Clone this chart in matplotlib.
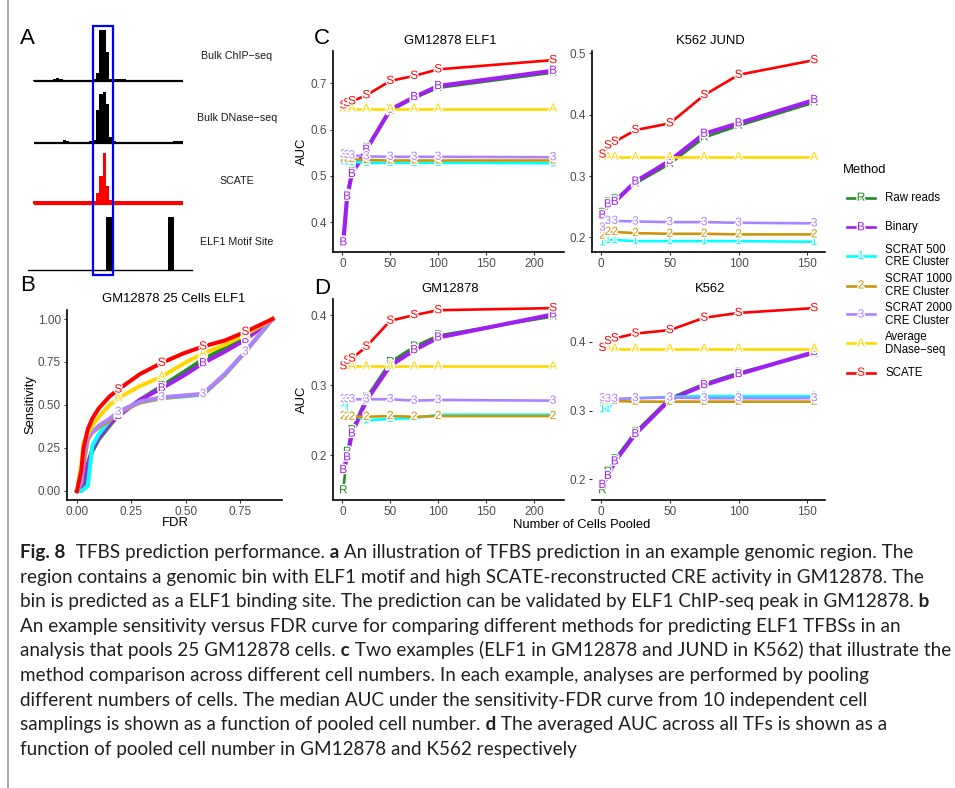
import matplotlib
matplotlib.use("Agg")
import matplotlib.pyplot as plt
import numpy as np
from matplotlib import patheffects, transforms
from matplotlib.patches import Rectangle
from matplotlib.lines import Line2D

plt.rcParams['font.family'] = 'Liberation Sans'

W, H = 955, 788

# ---- methods / legend ----
method_names = ['Raw reads', 'Binary', 'SCRAT 500\nCRE Cluster', 'SCRAT 1000\nCRE Cluster',
                'SCRAT 2000\nCRE Cluster', 'Average\nDNase\u2212seq', 'SCATE']
method_letters = ['R', 'B', '1', '2', '3', 'A', 'S']
method_colors = ['#228B22', '#A020F0', '#00FFFF', '#CD950C', '#AB82FF', '#FFD700', '#FF0000']

# ---- panel A tracks (45 genomic bins) ----
chip_signal = [0.02, 0.02, 0.02, 0.02, 0.0, 0.0, 0.04, 0.05, 0.04, 0.02, 0.0, 0.0, 0.0, 0.0, 0.0,
               0.0, 0.0, 0.02, 0.03, 0.15, 1.0, 1.0, 0.56, 0.04, 0.03, 0.04, 0.04, 0.04, 0.0, 0.0,
               0.0, 0.0, 0.0, 0.0, 0.0, 0.0, 0.0, 0.0, 0.0, 0.0, 0.0, 0.0, 0.0, 0.0, 0.0]
dnase_signal = [0.0, 0.0, 0.0, 0.0, 0.0, 0.0, 0.0, 0.0, 0.02, 0.05, 0.04, 0.02, 0.0, 0.0, 0.0,
                0.0, 0.02, 0.04, 0.05, 0.65, 0.95, 1.0, 0.75, 0.12, 0.03, 0.0, 0.0, 0.0, 0.0, 0.0,
                0.0, 0.0, 0.0, 0.0, 0.0, 0.0, 0.0, 0.0, 0.0, 0.0, 0.0, 0.0, 0.03, 0.04, 0.03]
scate_signal = [0.05, 0.05, 0.06, 0.05, 0.05, 0.06, 0.05, 0.05, 0.05, 0.05, 0.05, 0.05, 0.05, 0.05, 0.05,
                0.05, 0.05, 0.05, 0.05, 0.22, 0.55, 1.0, 0.35, 0.08, 0.05, 0.05, 0.06, 0.05, 0.05, 0.05,
                0.05, 0.06, 0.05, 0.05, 0.05, 0.05, 0.05, 0.06, 0.05, 0.05, 0.05, 0.05, 0.05, 0.05, 0.05]
motif_sites = [22.0, 40.5]
highlight_bins = (18.1, 24.1)
track_names = ['Bulk ChIP\u2212seq', 'Bulk DNase\u2212seq', 'SCATE', 'ELF1 Motif Site']

# ---- panel B: sensitivity vs FDR, GM12878 25 cells ELF1 ----
fdr = [0.0, 0.02, 0.03, 0.05, 0.07, 0.1, 0.15, 0.19, 0.29, 0.39, 0.49, 0.58, 0.68, 0.775, 0.9]
sens_raw = [0.0, 0.0, 0.03, 0.15, 0.23, 0.30, 0.38, 0.44, 0.53, 0.61, 0.69, 0.765, 0.83, 0.90, 1.0]
sens_binary = [0.0, 0.02, 0.06, 0.16, 0.24, 0.31, 0.39, 0.436, 0.53, 0.597, 0.67, 0.743, 0.81, 0.879, 1.0]
sens_scrat500 = [0.0, 0.0, 0.01, 0.03, 0.26, 0.33, 0.41, 0.46, 0.515, 0.54, 0.55, 0.56, 0.674, 0.81, 1.0]
sens_scrat1000 = [0.0, 0.05, 0.15, 0.30, 0.34, 0.37, 0.41, 0.455, 0.515, 0.54, 0.553, 0.562, 0.675, 0.81, 1.0]
sens_scrat2000 = [0.0, 0.05, 0.20, 0.31, 0.34, 0.38, 0.42, 0.46, 0.52, 0.545, 0.555, 0.565, 0.68, 0.81, 1.0]
sens_dnase = [0.0, 0.15, 0.28, 0.33, 0.38, 0.43, 0.50, 0.54, 0.61, 0.665, 0.74, 0.80, 0.85, 0.91, 1.0]
sens_scate = [0.0, 0.12, 0.25, 0.36, 0.42, 0.48, 0.55, 0.59, 0.68, 0.745, 0.80, 0.84, 0.875, 0.925, 1.0]
fdr_label_idx = [7, 9, 11, 13]

# ---- panels C/D: AUC vs number of pooled cells ----
cells_gm = [1, 5, 10, 25, 50, 75, 100, 220]
cells_k562 = [1, 5, 10, 25, 50, 75, 100, 155]

elf1_raw = [0.357, 0.458, 0.508, 0.560, 0.640, 0.668, 0.690, 0.723]
elf1_binary = [0.356, 0.455, 0.504, 0.556, 0.643, 0.670, 0.694, 0.727]
elf1_scrat500 = [0.532, 0.531, 0.530, 0.528, 0.528, 0.528, 0.528, 0.527]
elf1_scrat1000 = [0.537, 0.537, 0.536, 0.534, 0.533, 0.533, 0.533, 0.533]
elf1_scrat2000 = [0.546, 0.545, 0.544, 0.542, 0.541, 0.541, 0.541, 0.540]
elf1_dnase = [0.645, 0.645, 0.645, 0.645, 0.645, 0.645, 0.645, 0.645]
elf1_scate = [0.652, 0.657, 0.661, 0.674, 0.705, 0.716, 0.730, 0.750]

jund_raw = [0.240, 0.257, 0.262, 0.288, 0.320, 0.363, 0.382, 0.420]
jund_binary = [0.236, 0.254, 0.258, 0.291, 0.325, 0.369, 0.386, 0.424]
jund_scrat500 = [0.192, 0.196, 0.196, 0.194, 0.194, 0.194, 0.194, 0.193]
jund_scrat1000 = [0.203, 0.209, 0.209, 0.207, 0.206, 0.206, 0.205, 0.205]
jund_scrat2000 = [0.216, 0.227, 0.227, 0.226, 0.225, 0.225, 0.224, 0.223]
jund_dnase = [0.331, 0.331, 0.331, 0.331, 0.331, 0.331, 0.331, 0.331]
jund_scate = [0.335, 0.350, 0.356, 0.375, 0.386, 0.432, 0.465, 0.489]

gm_raw = [0.150, 0.205, 0.236, 0.282, 0.333, 0.355, 0.371, 0.398]
gm_binary = [0.179, 0.197, 0.231, 0.278, 0.328, 0.350, 0.368, 0.401]
gm_scrat500 = [0.274, 0.266, 0.258, 0.250, 0.252, 0.253, 0.258, 0.258]
gm_scrat1000 = [0.256, 0.255, 0.255, 0.255, 0.256, 0.255, 0.256, 0.256]
gm_scrat2000 = [0.280, 0.280, 0.280, 0.280, 0.280, 0.278, 0.279, 0.278]
gm_dnase = [0.327, 0.327, 0.327, 0.327, 0.327, 0.327, 0.327, 0.327]
gm_scate = [0.327, 0.335, 0.338, 0.355, 0.392, 0.400, 0.407, 0.410]

k_raw = [0.184, 0.211, 0.229, 0.269, 0.318, 0.339, 0.355, 0.383]
k_binary = [0.192, 0.205, 0.226, 0.266, 0.316, 0.337, 0.353, 0.385]
k_scrat500 = [0.302, 0.303, 0.316, 0.318, 0.320, 0.321, 0.321, 0.321]
k_scrat1000 = [0.315, 0.315, 0.314, 0.313, 0.313, 0.313, 0.313, 0.313]
k_scrat2000 = [0.318, 0.317, 0.317, 0.318, 0.319, 0.318, 0.318, 0.318]
k_dnase = [0.390, 0.390, 0.390, 0.390, 0.390, 0.390, 0.390, 0.390]
k_scate = [0.391, 0.401, 0.405, 0.412, 0.417, 0.435, 0.442, 0.449]

caption_lines = [
    [("Fig. 8", True), ("  TFBS prediction performance.", False), (" a", True),
     (" An illustration of TFBS prediction in an example genomic region. The", False)],
    [("region contains a genomic bin with ELF1 motif and high SCATE-reconstructed CRE activity in GM12878. The", False)],
    [("bin is predicted as a ELF1 binding site. The prediction can be validated by ELF1 ChIP-seq peak in GM12878.", False),
     (" b", True)],
    [("An example sensitivity versus FDR curve for comparing different methods for predicting ELF1 TFBSs in an", False)],
    [("analysis that pools 25 GM12878 cells.", False), (" c", True),
     (" Two examples (ELF1 in GM12878 and JUND in K562) that illustrate the", False)],
    [("method comparison across different cell numbers. In each example, analyses are performed by pooling", False)],
    [("different numbers of cells. The median AUC under the sensitivity-FDR curve from 10 independent cell", False)],
    [("samplings is shown as a function of pooled cell number.", False), (" d", True),
     (" The averaged AUC across all TFs is shown as a", False)],
    [("function of pooled cell number in GM12878 and K562 respectively", False)],
]
# right edge of each caption line in the reference (px)
caption_right = [940, 935, 940, 921, 943, 880, 878, 893, 590]

fig = plt.figure(figsize=(W / 100, H / 100), dpi=100)
fig.patch.set_facecolor('white')


def px_axes(x0, y0, x1, y1):
    return fig.add_axes([x0 / W, 1 - y1 / H, (x1 - x0) / W, (y1 - y0) / H])


def ftext(x, y, s, **kw):
    return fig.text(x / W, 1 - y / H, s, **kw)


halo = [patheffects.withStroke(linewidth=2, foreground='white')]


def style_axes(ax, xticks, yticks, xfmt, yfmt, left_spine=True):
    for s in ['top', 'right']:
        ax.spines[s].set_visible(False)
    ax.spines['left'].set_visible(left_spine)
    for s in ['left', 'bottom']:
        ax.spines[s].set_linewidth(1.2)
    ax.set_xticks(xticks)
    ax.set_yticks(yticks)
    ax.set_xticklabels([xfmt % v for v in xticks])
    ax.set_yticklabels([yfmt % v for v in yticks])
    ax.tick_params(direction='out', length=2.5, width=0.8, color='#333333',
                   labelsize=8.5, labelcolor='#4D4D4D', pad=2)
    ax.set_facecolor('none')


# ================= panel A =================
bins = list(range(len(chip_signal)))
xl = (-1.41, 47.8)
baselines = [81, 142.7, 204]
signals = [chip_signal, dnase_signal, scate_signal]
colors_a = ['black', 'black', 'red']
track_axes = []
for base, sig, col in zip(baselines, signals, colors_a):
    ax = px_axes(28, base - 56, 192, base + 4)
    ax.bar(bins, sig, width=1.0, align='edge', color=col, edgecolor='none')
    ax.hlines(0, bins[0] + 0.4, bins[-1] + 1, color=col, lw=1.6)
    ax.set_xlim(*xl)
    ax.set_ylim(-4 / 51, 56 / 51)
    ax.axis('off')
    track_axes.append(ax)

axm = px_axes(28, 214, 192, 269.5)
axm.bar(motif_sites, [1, 1], width=1.75, align='edge', color='black')
axm.set_xlim(*xl)
axm.set_ylim(0, 1.05)
for s in ['top', 'right', 'left']:
    axm.spines[s].set_visible(False)
axm.spines['bottom'].set_linewidth(1.0)
axm.set_xticks([])
axm.set_yticks([])
axm.set_facecolor('none')

for name, yy in zip(track_names, [55.7, 118.3, 180.7, 242.3]):
    ftext(237, yy, name, fontsize=7.7, ha='center', va='center', color='#1a1a1a')

tr = transforms.blended_transform_factory(track_axes[0].transData, fig.transFigure)
fig.add_artist(Rectangle((highlight_bins[0], 1 - 275 / H), highlight_bins[1] - highlight_bins[0],
                         (275 - 26) / H, transform=tr, fill=False, edgecolor='#0000FF', lw=1.6))

# ================= panel B =================
axB = px_axes(67.2, 310.4, 282.3, 499.6)
sens_all = [sens_raw, sens_binary, sens_scrat500, sens_scrat1000, sens_scrat2000, sens_dnase, sens_scate]
for sens, col in zip(sens_all, method_colors):
    axB.plot(fdr, sens, color=col, lw=2.9, solid_joinstyle='round')
for sens, col, let in zip(sens_all, method_colors, method_letters):
    for i in fdr_label_idx:
        axB.text(fdr[i], sens[i], let, color=col, fontsize=8.5, ha='center', va='center',
                 path_effects=halo, zorder=5)
style_axes(axB, [0, 0.25, 0.5, 0.75], [0, 0.25, 0.5, 0.75, 1.0], '%.2f', '%.2f')
ftext(173.3, 299, 'GM12878 25 Cells ELF1', fontsize=9.4, ha='center', va='center')
ftext(175, 523.5, 'FDR', fontsize=9.4, ha='center', va='center')
ftext(30, 405, 'Sensitivity', fontsize=9.4, ha='center', va='center', rotation=90)

# ================= panels C / D =================
panels = [
    ((332.8, 51, 563.6, 251.5), cells_gm,
     [elf1_raw, elf1_binary, elf1_scrat500, elf1_scrat1000, elf1_scrat2000, elf1_dnase, elf1_scate],
     'GM12878 ELF1', [0.4, 0.5, 0.6, 0.7], [0, 50, 100, 150, 200], True),
    ((591.8, 51, 824.8, 251.5), cells_k562,
     [jund_raw, jund_binary, jund_scrat500, jund_scrat1000, jund_scrat2000, jund_dnase, jund_scate],
     'K562 JUND', [0.2, 0.3, 0.4, 0.5], [0, 50, 100, 150], True),
    ((332.8, 299, 563.6, 499.5), cells_gm,
     [gm_raw, gm_binary, gm_scrat500, gm_scrat1000, gm_scrat2000, gm_dnase, gm_scate],
     'GM12878', [0.2, 0.3, 0.4], [0, 50, 100, 150, 200], True),
    ((591.8, 299, 824.8, 499.5), cells_k562,
     [k_raw, k_binary, k_scrat500, k_scrat1000, k_scrat2000, k_dnase, k_scate],
     'K562', [0.2, 0.3, 0.4], [0, 50, 100, 150], False),
]
for box, xs, series, title, yt, xt, lspine in panels:
    ax = px_axes(*box)
    for ys, col, let in zip(series, method_colors, method_letters):
        ax.plot(xs, ys, color=col, lw=3.0 if let == 'B' else 1.9)
    for ys, col, let in zip(series, method_colors, method_letters):
        for xv, yv in zip(xs, ys):
            ax.text(xv, yv, let, color=col, fontsize=8.5, ha='center', va='center',
                    path_effects=halo, zorder=5)
    style_axes(ax, xt, yt, '%d', '%.1f', left_spine=lspine)
    ftext((box[0] + box[2]) / 2 + 2, box[1] - 10.5, title, fontsize=9.4, ha='center', va='center')

ftext(302, 151, 'AUC', fontsize=9.4, ha='center', va='center', rotation=90)
ftext(302, 399, 'AUC', fontsize=9.4, ha='center', va='center', rotation=90)
ftext(581.7, 525, 'Number of Cells Pooled', fontsize=9.4, ha='center', va='center')

# panel letters
for let, xx, yy in [('A', 27.5, 38), ('B', 27.5, 286), ('C', 322, 38), ('D', 322, 288)]:
    ftext(xx, yy, let, fontsize=16, ha='center', va='center')

# ================= legend =================
ftext(843, 170, 'Method', fontsize=9.4, ha='left', va='center')
for name, col, let, yy in zip(method_names, method_colors, method_letters,
                              [197.7, 227.3, 256, 285.5, 314.5, 343.5, 372.7]):
    fig.add_artist(Line2D([846.7 / W, 875 / W], [1 - yy / H, 1 - yy / H], color=col, lw=1.9))
    ftext(861, yy, let, color=col, fontsize=8.5, ha='center', va='center', path_effects=halo)
    ftext(885, yy, name, fontsize=8.3, ha='left', va='center', linespacing=1.05)

# ================= caption =================
renderer = fig.canvas.get_renderer()
cap_font = 'Lato'
cap_color = '#231F20'


def seg_width(s, bold, size):
    t = fig.text(0, 0, s.replace(' ', '\u00a0'), fontsize=size, family=cap_font,
                 fontweight='bold' if bold else 'normal')
    w = t.get_window_extent(renderer).width
    t.remove()
    return w


base_size = 12.0
line_w = [sum(seg_width(s, b, base_size) for s, b in line) for line in caption_lines]
ratios = [base_size * (r - 20.5) / w for r, w in zip(caption_right, line_w)]
fit_max = min(base_size * 925 / w for w in line_w)
cap_size = min(float(np.median(ratios)), fit_max)

y0 = 558
for i, line in enumerate(caption_lines):
    x = 20.5
    yy = y0 + 24.6 * i
    for s, bold in line:
        s2 = s.replace(' ', '\u00a0')
        t = ftext(x, yy, s2, fontsize=cap_size, family=cap_font, color=cap_color,
                  fontweight='bold' if bold else 'normal', ha='left', va='baseline')
        x += t.get_window_extent(renderer).width

# left border line
fig.add_artist(Line2D([8 / W, 8 / W], [0, 1], color='#9a9a9a', lw=1.2))

fig.savefig('out.png', dpi=100, facecolor='white')
